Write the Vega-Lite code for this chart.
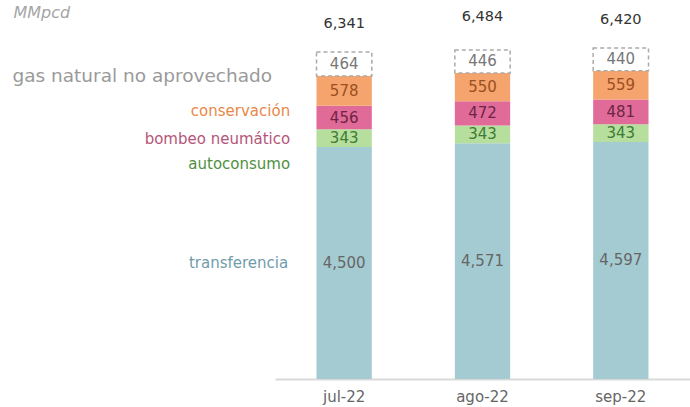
{
  "$schema": "https://vega.github.io/schema/vega-lite/v6.json",
  "width": 415,
  "height": 379,
  "autosize": {"type": "none"},
  "padding": {"left": 275, "top": 0, "right": 0, "bottom": 28},
  "background": "white",
  "config": {"view": {"stroke": null}, "font": "DejaVu Sans"},
  "datasets": {
    "totales": [
      {"mes": "jul-22", "total": 6341},
      {"mes": "ago-22", "total": 6484},
      {"mes": "sep-22", "total": 6420}
    ]
  },
  "data": {
    "values": [
      {"mes": "jul-22", "cat": "transferencia", "value": 4500},
      {"mes": "jul-22", "cat": "autoconsumo", "value": 343},
      {"mes": "jul-22", "cat": "bombeo neumático", "value": 456},
      {"mes": "jul-22", "cat": "conservación", "value": 578},
      {"mes": "jul-22", "cat": "gas natural no aprovechado", "value": 464},
      {"mes": "ago-22", "cat": "transferencia", "value": 4571},
      {"mes": "ago-22", "cat": "autoconsumo", "value": 343},
      {"mes": "ago-22", "cat": "bombeo neumático", "value": 472},
      {"mes": "ago-22", "cat": "conservación", "value": 550},
      {"mes": "ago-22", "cat": "gas natural no aprovechado", "value": 446},
      {"mes": "sep-22", "cat": "transferencia", "value": 4597},
      {"mes": "sep-22", "cat": "autoconsumo", "value": 343},
      {"mes": "sep-22", "cat": "bombeo neumático", "value": 481},
      {"mes": "sep-22", "cat": "conservación", "value": 559},
      {"mes": "sep-22", "cat": "gas natural no aprovechado", "value": 440}
    ]
  },
  "encoding": {
    "x": {
      "field": "mes", "type": "nominal", "sort": ["jul-22", "ago-22", "sep-22"],
      "scale": {"paddingInner": 0.6},
      "axis": {"title": null, "labelAngle": 0, "ticks": false, "labelPadding": 10, "labelFontSize": 15, "labelColor": "#666666", "domainColor": "#d9d9d9", "domainWidth": 2}
    }
  },
  "layer": [
    {
      "transform": [
        {"calculate": "indexof(['transferencia','autoconsumo','bombeo neumático','conservación','gas natural no aprovechado'], datum.cat)", "as": "orden"},
        {"stack": "value", "groupby": ["mes"], "sort": [{"field": "orden", "order": "ascending"}], "as": ["y0", "y1"]},
        {"calculate": "(datum.y0 + datum.y1) / 2", "as": "mid"}
      ],
      "layer": [
        {
          "transform": [{"filter": "datum.cat != 'gas natural no aprovechado'"}],
          "mark": {"type": "bar"},
          "encoding": {
            "y": {"field": "y0", "type": "quantitative", "scale": {"domain": [0, 7350], "nice": false},
              "axis": {"labels": false, "ticks": false, "domain": false, "grid": false, "title": "MMpcd", "titleAngle": 0, "titleX": -262, "titleY": 12, "titleAlign": "left", "titleBaseline": "middle", "titleFontStyle": "italic", "titleFontWeight": "normal", "titleFontSize": 16, "titleColor": "#a6a6a6"}},
            "y2": {"field": "y1"},
            "color": {"field": "cat", "type": "nominal", "legend": null,
              "scale": {"domain": ["transferencia", "autoconsumo", "bombeo neumático", "conservación"], "range": ["#a5cbd2", "#b6de9c", "#e06b98", "#f4a46c"]}}
          }
        },
        {
          "transform": [{"filter": "datum.cat == 'gas natural no aprovechado'"}],
          "mark": {"type": "bar", "fill": "white", "stroke": "#aaaaaa", "strokeWidth": 1.5, "strokeDash": [4, 3]},
          "encoding": {
            "y": {"field": "y0", "type": "quantitative"},
            "y2": {"field": "y1"}
          }
        },
        {
          "mark": {"type": "text", "fontSize": 15, "baseline": "middle"},
          "encoding": {
            "y": {"field": "mid", "type": "quantitative"},
            "text": {"field": "value", "type": "quantitative", "format": ","},
            "color": {"field": "cat", "type": "nominal", "legend": null,
              "scale": {"domain": ["transferencia", "autoconsumo", "bombeo neumático", "conservación", "gas natural no aprovechado"], "range": ["#666666", "#3d7b36", "#6e2545", "#9c4f22", "#777777"]}}
          }
        },
        {
          "transform": [{"filter": "datum.mes == 'jul-22' && datum.cat == 'transferencia'"}],
          "mark": {"type": "text", "fontSize": 15, "align": "right", "baseline": "middle", "dx": -56, "dy": 0, "color": "#6f9cab"},
          "encoding": {"y": {"field": "mid", "type": "quantitative"}, "text": {"field": "cat"}}
        },
        {
          "transform": [{"filter": "datum.mes == 'jul-22' && datum.cat == 'autoconsumo'"}],
          "mark": {"type": "text", "fontSize": 15, "align": "right", "baseline": "middle", "dx": -54, "dy": 26, "color": "#4f8f3f"},
          "encoding": {"y": {"field": "mid", "type": "quantitative"}, "text": {"field": "cat"}}
        },
        {
          "transform": [{"filter": "datum.mes == 'jul-22' && datum.cat == 'bombeo neumático'"}],
          "mark": {"type": "text", "fontSize": 15, "align": "right", "baseline": "middle", "dx": -54, "dy": 21, "color": "#b5557a"},
          "encoding": {"y": {"field": "mid", "type": "quantitative"}, "text": {"field": "cat"}}
        },
        {
          "transform": [{"filter": "datum.mes == 'jul-22' && datum.cat == 'conservación'"}],
          "mark": {"type": "text", "fontSize": 15, "align": "right", "baseline": "middle", "dx": -54, "dy": 20, "color": "#e8874a"},
          "encoding": {"y": {"field": "mid", "type": "quantitative"}, "text": {"field": "cat"}}
        },
        {
          "transform": [{"filter": "datum.mes == 'jul-22' && datum.cat == 'gas natural no aprovechado'"}],
          "mark": {"type": "text", "fontSize": 18.5, "align": "right", "baseline": "middle", "dx": -72, "dy": 12, "color": "#9a9a9a"},
          "encoding": {"y": {"field": "mid", "type": "quantitative"}, "text": {"field": "cat"}}
        }
      ],
      "resolve": {"scale": {"color": "independent"}}
    },
    {
      "data": {"name": "totales"},
      "mark": {"type": "text", "fontSize": 14.5, "baseline": "middle", "dy": -28, "color": "#333333"},
      "encoding": {
        "y": {"field": "total", "type": "quantitative"},
        "text": {"field": "total", "type": "quantitative", "format": ","}
      }
    }
  ]
}
